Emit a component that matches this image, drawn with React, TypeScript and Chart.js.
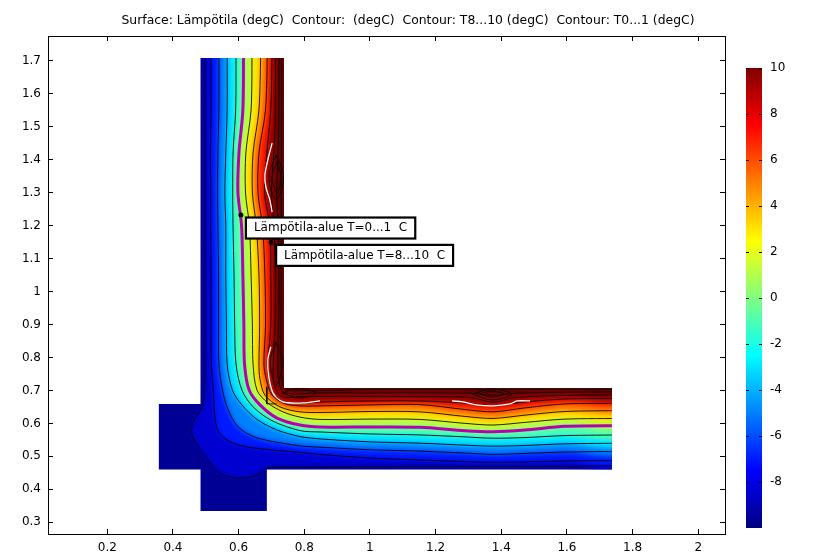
import React, { useEffect, useRef } from "react";
import { Chart, registerables } from "chart.js";

Chart.register(...registerables);

const titleText = "Surface: Lämpötila (degC)  Contour:  (degC)  Contour: T8...10 (degC)  Contour: T0...1 (degC)";
const xTicks = [0.2, 0.4, 0.6, 0.8, 1, 1.2, 1.4, 1.6, 1.8, 2];
const yTicks = [0.3, 0.4, 0.5, 0.6, 0.7, 0.8, 0.9, 1, 1.1, 1.2, 1.3, 1.4, 1.5, 1.6, 1.7];
const barTicks = [-8, -6, -4, -2, 0, 2, 4, 6, 8, 10];

// outline of the domain, data units
const shapeOutline: [number, number][] = [
  [0.484, 1.708], [0.738, 1.708], [0.738, 0.707], [1.737, 0.707], [1.737, 0.46], [0.686, 0.46],
  [0.686, 0.334], [0.484, 0.334], [0.484, 0.46], [0.357, 0.46], [0.357, 0.659], [0.484, 0.659],
];

// shared stations: the vertical leg (y) and the horizontal leg (x)
const legY = [1.75, 1.551, 1.42, 1.299, 1.199, 1.05, 0.898, 0.78];
const runX = [0.848, 1.0, 1.152, 1.29, 1.375, 1.472, 1.594, 1.78];

const legM9 = [0.498, 0.498, 0.498, 0.498, 0.498, 0.498, 0.498, 0.498];
const cornerM9: [number, number][] = [[0.496, 0.71], [0.49, 0.655], [0.458, 0.595], [0.461, 0.556], [0.484, 0.52], [0.543, 0.45], [0.598, 0.434], [0.656, 0.443], [0.686, 0.465], [0.787, 0.468]];
const runM9 = [0.468, 0.469, 0.47, 0.47, 0.47, 0.47, 0.47, 0.472];

const legM8 = [0.516, 0.516, 0.514, 0.515, 0.515, 0.516, 0.516, 0.517];
const cornerM8: [number, number][] = [[0.523, 0.701], [0.527, 0.63], [0.537, 0.578], [0.574, 0.544], [0.635, 0.527], [0.787, 0.512]];
const runM8 = [0.506, 0.495, 0.489, 0.484, 0.482, 0.483, 0.486, 0.487];

const legM6 = [0.54, 0.54, 0.537, 0.536, 0.537, 0.539, 0.539, 0.54];
const cornerM6: [number, number][] = [[0.551, 0.701], [0.567, 0.644], [0.598, 0.59], [0.656, 0.556], [0.787, 0.532]];
const runM6 = [0.528, 0.52, 0.516, 0.51, 0.506, 0.509, 0.513, 0.515];

const legM4 = [0.565, 0.565, 0.561, 0.558, 0.561, 0.561, 0.563, 0.565];
const cornerM4: [number, number][] = [[0.581, 0.701], [0.61, 0.656], [0.656, 0.612], [0.717, 0.58], [0.787, 0.56]];
const runM4 = [0.553, 0.544, 0.54, 0.534, 0.531, 0.533, 0.538, 0.54];

const legM2 = [0.592, 0.591, 0.583, 0.582, 0.583, 0.586, 0.588, 0.592];
const cornerM2: [number, number][] = [[0.61, 0.701], [0.644, 0.65], [0.702, 0.608], [0.787, 0.578]];
const runM2 = [0.574, 0.568, 0.565, 0.559, 0.555, 0.557, 0.563, 0.565];

const leg0 = [0.615, 0.613, 0.601, 0.598, 0.609, 0.613, 0.616, 0.618];
const corner0: [number, number][] = [[0.632, 0.701], [0.665, 0.656], [0.717, 0.616], [0.787, 0.595]];
const run0 = [0.589, 0.589, 0.588, 0.578, 0.575, 0.58, 0.591, 0.593];

const leg2 = [0.641, 0.638, 0.622, 0.621, 0.633, 0.638, 0.642, 0.644];
const corner2: [number, number][] = [[0.656, 0.701], [0.689, 0.662], [0.735, 0.635], [0.787, 0.619]];
const run2 = [0.612, 0.613, 0.612, 0.6, 0.595, 0.603, 0.613, 0.615];

const leg4 = [0.668, 0.662, 0.644, 0.642, 0.654, 0.662, 0.664, 0.662];
const corner4: [number, number][] = [[0.665, 0.735], [0.68, 0.686], [0.726, 0.65], [0.787, 0.635]];
const run4 = [0.633, 0.636, 0.635, 0.621, 0.615, 0.625, 0.636, 0.639];

const leg6 = [0.688, 0.682, 0.662, 0.659, 0.673, 0.68, 0.682, 0.677];
const corner6: [number, number][] = [[0.684, 0.735], [0.702, 0.686], [0.741, 0.66], [0.787, 0.653]];
const run6 = [0.653, 0.656, 0.657, 0.642, 0.635, 0.647, 0.659, 0.661];

const leg8 = [0.702, 0.698, 0.686, 0.679, 0.695, 0.698, 0.698, 0.689];
const corner8: [number, number][] = [[0.692, 0.741], [0.705, 0.692], [0.735, 0.666], [0.796, 0.662]];
const run8 = [0.665, 0.668, 0.668, 0.662, 0.654, 0.665, 0.674, 0.676];

const leg9 = [0.717, 0.716, 0.712, 0.708, 0.712, 0.716, 0.716, 0.714];
const corner9: [number, number][] = [[0.716, 0.74], [0.726, 0.706], [0.75, 0.695], [0.8, 0.69]];
const run9 = [0.69, 0.692, 0.692, 0.69, 0.684, 0.69, 0.694, 0.696];

// the hot-side closure lies in the empty notch of the L
const notchClosure: [number, number][] = [[1.78, 0.8], [0.9, 0.8], [0.9, 1.75]];

// fine contours of the T8...10 group
const fineA: [number, number][] = [[0.712, 1.75], [0.711, 1.5], [0.707, 1.42], [0.7, 1.3], [0.707, 1.21], [0.711, 1.1], [0.711, 0.9], [0.706, 0.79], [0.708, 0.72], [0.73, 0.682], [0.8, 0.682], [1.2, 0.681], [1.31, 0.678], [1.375, 0.664], [1.44, 0.678], [1.6, 0.685], [1.78, 0.686]];
const fineB: [number, number][] = [[0.723, 1.75], [0.722, 1.5], [0.72, 1.42], [0.716, 1.3], [0.72, 1.21], [0.723, 1.0], [0.72, 0.79], [0.722, 0.73], [0.74, 0.693], [0.85, 0.693], [1.3, 0.692], [1.375, 0.685], [1.45, 0.692], [1.78, 0.696]];
const fineC: [number, number][] = [[0.731, 1.75], [0.73, 1.0], [0.732, 0.73], [0.75, 0.703], [1.0, 0.703], [1.78, 0.703]];
const loopA: [number, number][] = [[0.714, 1.414], [0.738, 1.347], [0.714, 1.278], [0.692, 1.347], [0.714, 1.414]];
const loopB: [number, number][] = [[0.717, 1.393], [0.729, 1.347], [0.717, 1.299], [0.702, 1.347], [0.717, 1.393]];
const loopC: [number, number][] = [[0.714, 0.847], [0.735, 0.786], [0.714, 0.716], [0.696, 0.786], [0.714, 0.847]];
const loopD: [number, number][] = [[1.311, 0.689], [1.372, 0.704], [1.433, 0.689], [1.372, 0.671], [1.311, 0.689]];
const loopE: [number, number][] = [[1.335, 0.689], [1.372, 0.698], [1.408, 0.689], [1.372, 0.68], [1.335, 0.689]];
const loopF: [number, number][] = [[0.732, 0.692], [0.784, 0.707], [0.835, 0.692], [0.784, 0.677], [0.732, 0.692]];
const squareMark: [number, number][] = [[0.686, 0.711], [0.686, 0.659], [0.716, 0.659]];

// white contour pieces
const whiteUpper: [number, number][] = [[0.702, 1.45], [0.689, 1.399], [0.68, 1.353], [0.683, 1.317], [0.695, 1.278], [0.702, 1.241]];
const whiteLower: [number, number][] = [[0.698, 0.832], [0.689, 0.793], [0.692, 0.741], [0.705, 0.692], [0.735, 0.665], [0.796, 0.662], [0.848, 0.668]];
const whiteRun: [number, number][] = [[1.25, 0.668], [1.283, 0.665], [1.325, 0.656], [1.375, 0.653], [1.427, 0.659], [1.448, 0.668], [1.488, 0.668]];

// annotations
const noteTexts = ["Lämpötila-alue T=0...1  C", "Lämpötila-alue T=8...10  C"];
const notePoints: [number, number][] = [[0.607, 1.232], [0.699, 1.149]];

const jet = (T: number, a = 1) => {
  const t = (T + 10) / 20;
  const c = (v: number) => Math.round(255 * Math.min(1, Math.max(0, 1.5 - Math.abs(v))));
  return `rgba(${c(4 * t - 3)},${c(4 * t - 2)},${c(4 * t - 1)},${a})`;
};

const polyline = (leg: number[], corner: [number, number][], run: number[]) => [
  ...leg.map((x, i) => ({ x, y: legY[i] })),
  ...corner.map(([x, y]) => ({ x, y })),
  ...run.map((y, i) => ({ x: runX[i], y })),
];
const pts = (a: [number, number][]) => a.map(([x, y]) => ({ x, y }));

const thin = "rgba(0,0,0,0.85)";
const levels: { path: { x: number; y: number }[]; band: number; stroke?: string; width?: number }[] = [
  { path: polyline(legM9, cornerM9, runM9), band: -8.4, stroke: "rgba(0,0,30,0.9)", width: 1 },
  { path: polyline(legM8, cornerM8, runM8), band: -7, stroke: thin, width: 1 },
  { path: polyline(legM6, cornerM6, runM6), band: -5, stroke: thin, width: 1 },
  { path: polyline(legM4, cornerM4, runM4), band: -3, stroke: thin, width: 1 },
  { path: polyline(legM2, cornerM2, runM2), band: -1, stroke: thin, width: 1 },
  { path: polyline(leg0, corner0, run0), band: 1, stroke: "#b800b0", width: 3 },
  { path: polyline(leg2, corner2, run2), band: 3, stroke: thin, width: 1 },
  { path: polyline(leg4, corner4, run4), band: 5, stroke: thin, width: 1 },
  { path: polyline(leg6, corner6, run6), band: 7, stroke: thin, width: 1 },
  { path: polyline(leg8, corner8, run8), band: 9.6, stroke: thin, width: 1 },
  { path: polyline(leg9, corner9, run9), band: 10.6 },
];

const X_MIN = 0.0194, X_MAX = 2.0815, Y_MIN = 0.2645, Y_MAX = 1.775;
const BASE_TEMP = -9.6;

const fieldPlugin = {
  id: "field",
  beforeDatasetsDraw(chart: any) {
    const { ctx } = chart;
    const sx = chart.scales.x, sy = chart.scales.y;
    ctx.save();
    ctx.beginPath();
    shapeOutline.forEach(([x, y], i) => {
      const px = sx.getPixelForValue(x), py = sy.getPixelForValue(y);
      if (i === 0) ctx.moveTo(px, py); else ctx.lineTo(px, py);
    });
    ctx.closePath();
    ctx.clip();
    ctx.fillStyle = jet(BASE_TEMP);
    ctx.fillRect(0, 0, chart.width, chart.height);
    chart.data.datasets.forEach((ds: any, i: number) => {
      if (ds.bandTemp === undefined) return;
      const line = chart.getDatasetMeta(i).dataset;
      line.updateControlPoints(chart.chartArea, "x");
      ctx.save();
      ctx.filter = "blur(2.4px)";
      ctx.fillStyle = jet(ds.bandTemp);
      ctx.beginPath();
      line.path(ctx);
      ctx.closePath();
      ctx.fill();
      ctx.restore();
    });
  },
  afterDatasetsDraw(chart: any) {
    const { ctx } = chart;
    ctx.restore();
    const sx = chart.scales.x, sy = chart.scales.y;
    ctx.font = '12px "DejaVu Sans"';
    ctx.textBaseline = "middle";
    ctx.textAlign = "left";
    noteTexts.forEach((text, i) => {
      const px = sx.getPixelForValue(notePoints[i][0]);
      const py = sy.getPixelForValue(notePoints[i][1]);
      const w = ctx.measureText(text).width + 16;
      const bx = px + 5, by = py + 2.5;
      ctx.fillStyle = "#000";
      ctx.beginPath();
      ctx.arc(px, py, 2.5, 0, Math.PI * 2);
      ctx.fill();
      ctx.fillStyle = "#fff";
      ctx.fillRect(bx, by, w, 21);
      ctx.strokeStyle = "#000";
      ctx.lineWidth = 2.2;
      ctx.strokeRect(bx, by, w, 21);
      ctx.fillStyle = "#000";
      ctx.fillText(text, bx + 8, by + 10.5);
    });
  },
};

const tickFont = { family: "'DejaVu Sans'", size: 12 };

export default function App() {
  const mainRef = useRef<HTMLCanvasElement>(null);
  const barRef = useRef<HTMLCanvasElement>(null);

  useEffect(() => {
    document.body.style.margin = "0";
    const line = (data: any[], color: string, width: number, tension = 0.3) => ({
      data, showLine: true, pointRadius: 0, borderColor: color, borderWidth: width, tension, fill: false,
    });
    const bandSets = levels.map((l) => ({
      data: [...l.path, ...pts(notchClosure)],
      showLine: true, pointRadius: 0, borderWidth: 0, tension: 0.3, fill: false, bandTemp: l.band,
    }));
    const contourSets = levels.filter((l) => l.stroke).map((l) => line(l.path, l.stroke!, l.width!));
    const black = "rgba(0,0,0,0.8)";
    const fineSets = [fineA, fineB, fineC, loopA, loopB, loopC, loopD, loopE, loopF].map((a) => line(pts(a), black, 1, 0.35));
    const squareSet = line(pts(squareMark), black, 1, 0);
    const whiteSets = [whiteUpper, whiteLower, whiteRun].map((a) => line(pts(a), "#fff", 1.3));

    const axisBase = (ticksList: number[]) => ({
      type: "linear" as const,
      afterBuildTicks: (s: any) => { s.ticks = ticksList.map((value) => ({ value })); },
      border: { color: "#000", width: 1 },
      grid: { drawOnChartArea: false, tickLength: -5, color: "#000" },
    });

    const main = new Chart(mainRef.current!, {
      type: "scatter",
      data: { datasets: [...whiteSets, ...contourSets, ...fineSets, squareSet, ...bandSets] as any },
      plugins: [fieldPlugin],
      options: {
        responsive: false,
        animation: false,
        events: [],
        layout: { padding: 0 },
        plugins: {
          legend: { display: false },
          tooltip: { enabled: false },
          title: {
            display: true, text: titleText, color: "#000",
            font: { family: "'DejaVu Sans'", size: 12.4, weight: "normal", lineHeight: 1 },
            padding: { top: 15, bottom: 8.6 },
          },
        },
        elements: { line: { capBezierPoints: false } },
        scales: {
          x: {
            ...axisBase(xTicks), position: "bottom", min: X_MIN, max: X_MAX,
            afterFit: (s: any) => { s.height = 23; },
            ticks: { color: "#000", font: tickFont, padding: 12, maxRotation: 0, callback: (v: any) => String(v) },
          },
          y: {
            ...axisBase(yTicks), position: "left", min: Y_MIN, max: Y_MAX,
            afterFit: (s: any) => { s.width = 48; },
            ticks: { color: "#000", font: tickFont, padding: 12, callback: (v: any) => String(v) },
          },
          x2: {
            ...axisBase(xTicks), position: "top", min: X_MIN, max: X_MAX,
            afterFit: (s: any) => { s.height = 0; },
            ticks: { display: false },
          },
          y2: {
            ...axisBase(yTicks), position: "right", min: Y_MIN, max: Y_MAX,
            afterFit: (s: any) => { s.width = 91; },
            ticks: { display: false },
          },
        },
      } as any,
    });

    const barGrid = { drawOnChartArea: false, tickLength: -3, color: "#000", z: 1 };
    const bar = new Chart(barRef.current!, {
      type: "bar",
      data: {
        labels: ["T"],
        datasets: [{
          data: [[-10, 10]],
          barPercentage: 1,
          categoryPercentage: 1,
          backgroundColor: (c: any) => {
            const a = c.chart.chartArea;
            if (!a) return "#000";
            const g = c.chart.ctx.createLinearGradient(0, a.bottom, 0, a.top);
            for (let T = -10; T <= 10; T += 1) g.addColorStop((T + 10) / 20, jet(T));
            for (const T of [-7.5, -2.5, 2.5, 7.5]) g.addColorStop((T + 10) / 20, jet(T));
            return g;
          },
        }] as any,
      },
      options: {
        responsive: false,
        animation: false,
        events: [],
        layout: { padding: { top: 68, bottom: 29 } },
        plugins: { legend: { display: false }, tooltip: { enabled: false }, title: { display: false } },
        scales: {
          x: { display: false },
          y: {
            position: "left", min: -10, max: 10,
            afterBuildTicks: (s: any) => { s.ticks = barTicks.map((value) => ({ value })); },
            afterFit: (s: any) => { s.width = 20; },
            border: { display: false },
            grid: barGrid,
            ticks: { display: false },
          },
          y3: {
            position: "right", min: -10, max: 10,
            afterBuildTicks: (s: any) => { s.ticks = barTicks.map((value) => ({ value })); },
            afterFit: (s: any) => { s.width = 54; },
            border: { display: false },
            grid: barGrid,
            ticks: { color: "#000", font: tickFont, padding: 11, callback: (v: any) => String(v) },
          },
        },
      } as any,
    });

    return () => { main.destroy(); bar.destroy(); };
  }, []);

  return (
    <div style={{ position: "relative", width: 816, height: 557, background: "#fff" }}>
      <canvas ref={mainRef} width={816} height={557} style={{ position: "absolute", left: 0, top: 0 }} />
      <canvas ref={barRef} width={90} height={557} style={{ position: "absolute", left: 726, top: 0 }} />
    </div>
  );
}
